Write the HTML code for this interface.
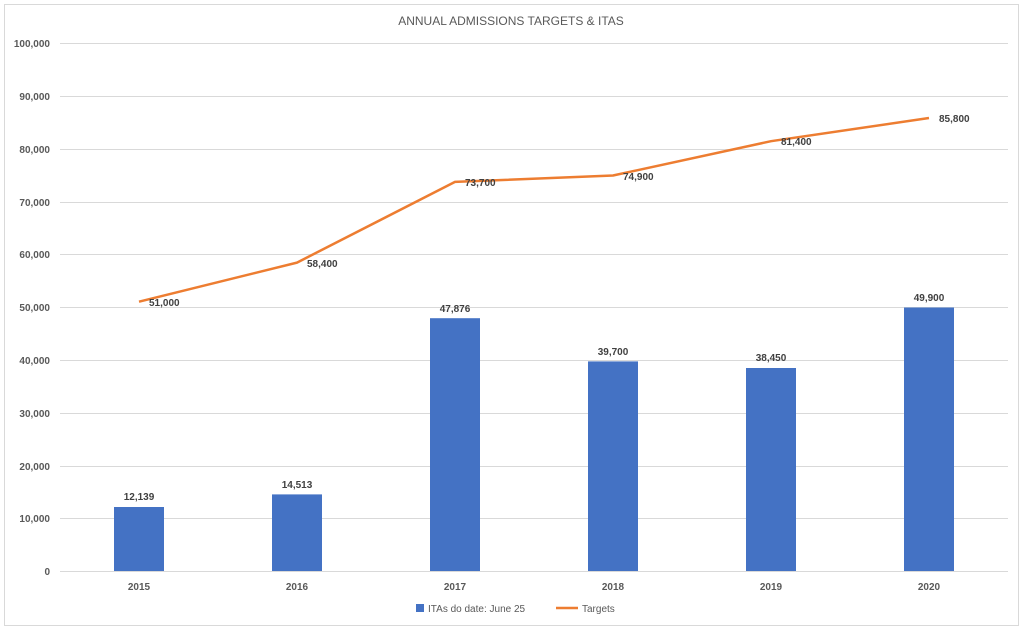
<!DOCTYPE html>
<html><head><style>
body{margin:0;background:#fff;}
svg{display:block;font-family:"Liberation Sans",sans-serif;}
</style></head><body>
<svg width="1023" height="632" xmlns="http://www.w3.org/2000/svg">
<rect x="4.5" y="4.5" width="1014" height="621" fill="#fff" stroke="#d9d9d9"/>
<text x="511" y="25" text-anchor="middle" font-size="12" fill="#595959">ANNUAL ADMISSIONS TARGETS &amp; ITAS</text>
<g stroke="#d9d9d9" stroke-width="1">
<line x1="60" x2="1008" y1="43.5" y2="43.5"/>
<line x1="60" x2="1008" y1="96.5" y2="96.5"/>
<line x1="60" x2="1008" y1="149.5" y2="149.5"/>
<line x1="60" x2="1008" y1="202.5" y2="202.5"/>
<line x1="60" x2="1008" y1="254.5" y2="254.5"/>
<line x1="60" x2="1008" y1="307.5" y2="307.5"/>
<line x1="60" x2="1008" y1="360.5" y2="360.5"/>
<line x1="60" x2="1008" y1="413.5" y2="413.5"/>
<line x1="60" x2="1008" y1="466.5" y2="466.5"/>
<line x1="60" x2="1008" y1="518.5" y2="518.5"/>
<line x1="60" x2="1008" y1="571.5" y2="571.5"/>
</g>
<g font-size="10" font-weight="bold" fill="#595959" text-anchor="end">
<text x="50" y="47">100,000</text><text x="50" y="100">90,000</text><text x="50" y="153">80,000</text>
<text x="50" y="206">70,000</text><text x="50" y="258">60,000</text><text x="50" y="311">50,000</text>
<text x="50" y="364">40,000</text><text x="50" y="417">30,000</text><text x="50" y="470">20,000</text>
<text x="50" y="522">10,000</text><text x="50" y="575">0</text>
</g>
<g fill="#4472c4">
<rect x="114" y="507" width="50" height="64"/>
<rect x="272" y="494.4" width="50" height="76.6"/>
<rect x="430" y="318.2" width="50" height="252.8"/>
<rect x="588" y="361.4" width="50" height="209.6"/>
<rect x="746" y="368" width="50" height="203"/>
<rect x="904" y="307.5" width="50" height="263.5"/>
</g>
<g font-size="10" font-weight="bold" fill="#404040" text-anchor="middle">
<text x="139" y="500">12,139</text><text x="297" y="488">14,513</text><text x="455" y="312">47,876</text>
<text x="613" y="355">39,700</text><text x="771" y="361">38,450</text><text x="929" y="301">49,900</text>
</g>
<polyline fill="none" stroke="#ed7d31" stroke-width="2.5" stroke-linejoin="round" points="139,301.7 297,262.6 455,181.9 613,175.5 771,141.2 929,118"/>
<g font-size="10" font-weight="bold" fill="#404040">
<text x="149" y="306">51,000</text><text x="307" y="267">58,400</text><text x="465" y="186">73,700</text>
<text x="623" y="180">74,900</text><text x="781" y="145">81,400</text><text x="939" y="122">85,800</text>
</g>
<g font-size="10" font-weight="bold" fill="#595959" text-anchor="middle">
<text x="139" y="590">2015</text><text x="297" y="590">2016</text><text x="455" y="590">2017</text>
<text x="613" y="590">2018</text><text x="771" y="590">2019</text><text x="929" y="590">2020</text>
</g>
<rect x="416" y="604" width="8" height="8" fill="#4472c4"/>
<text x="428" y="612" font-size="10" fill="#595959">ITAs do date: June 25</text>
<line x1="556" x2="578" y1="608" y2="608" stroke="#ed7d31" stroke-width="2.5"/>
<text x="582" y="612" font-size="10" fill="#595959">Targets</text>
</svg>
</body></html>
